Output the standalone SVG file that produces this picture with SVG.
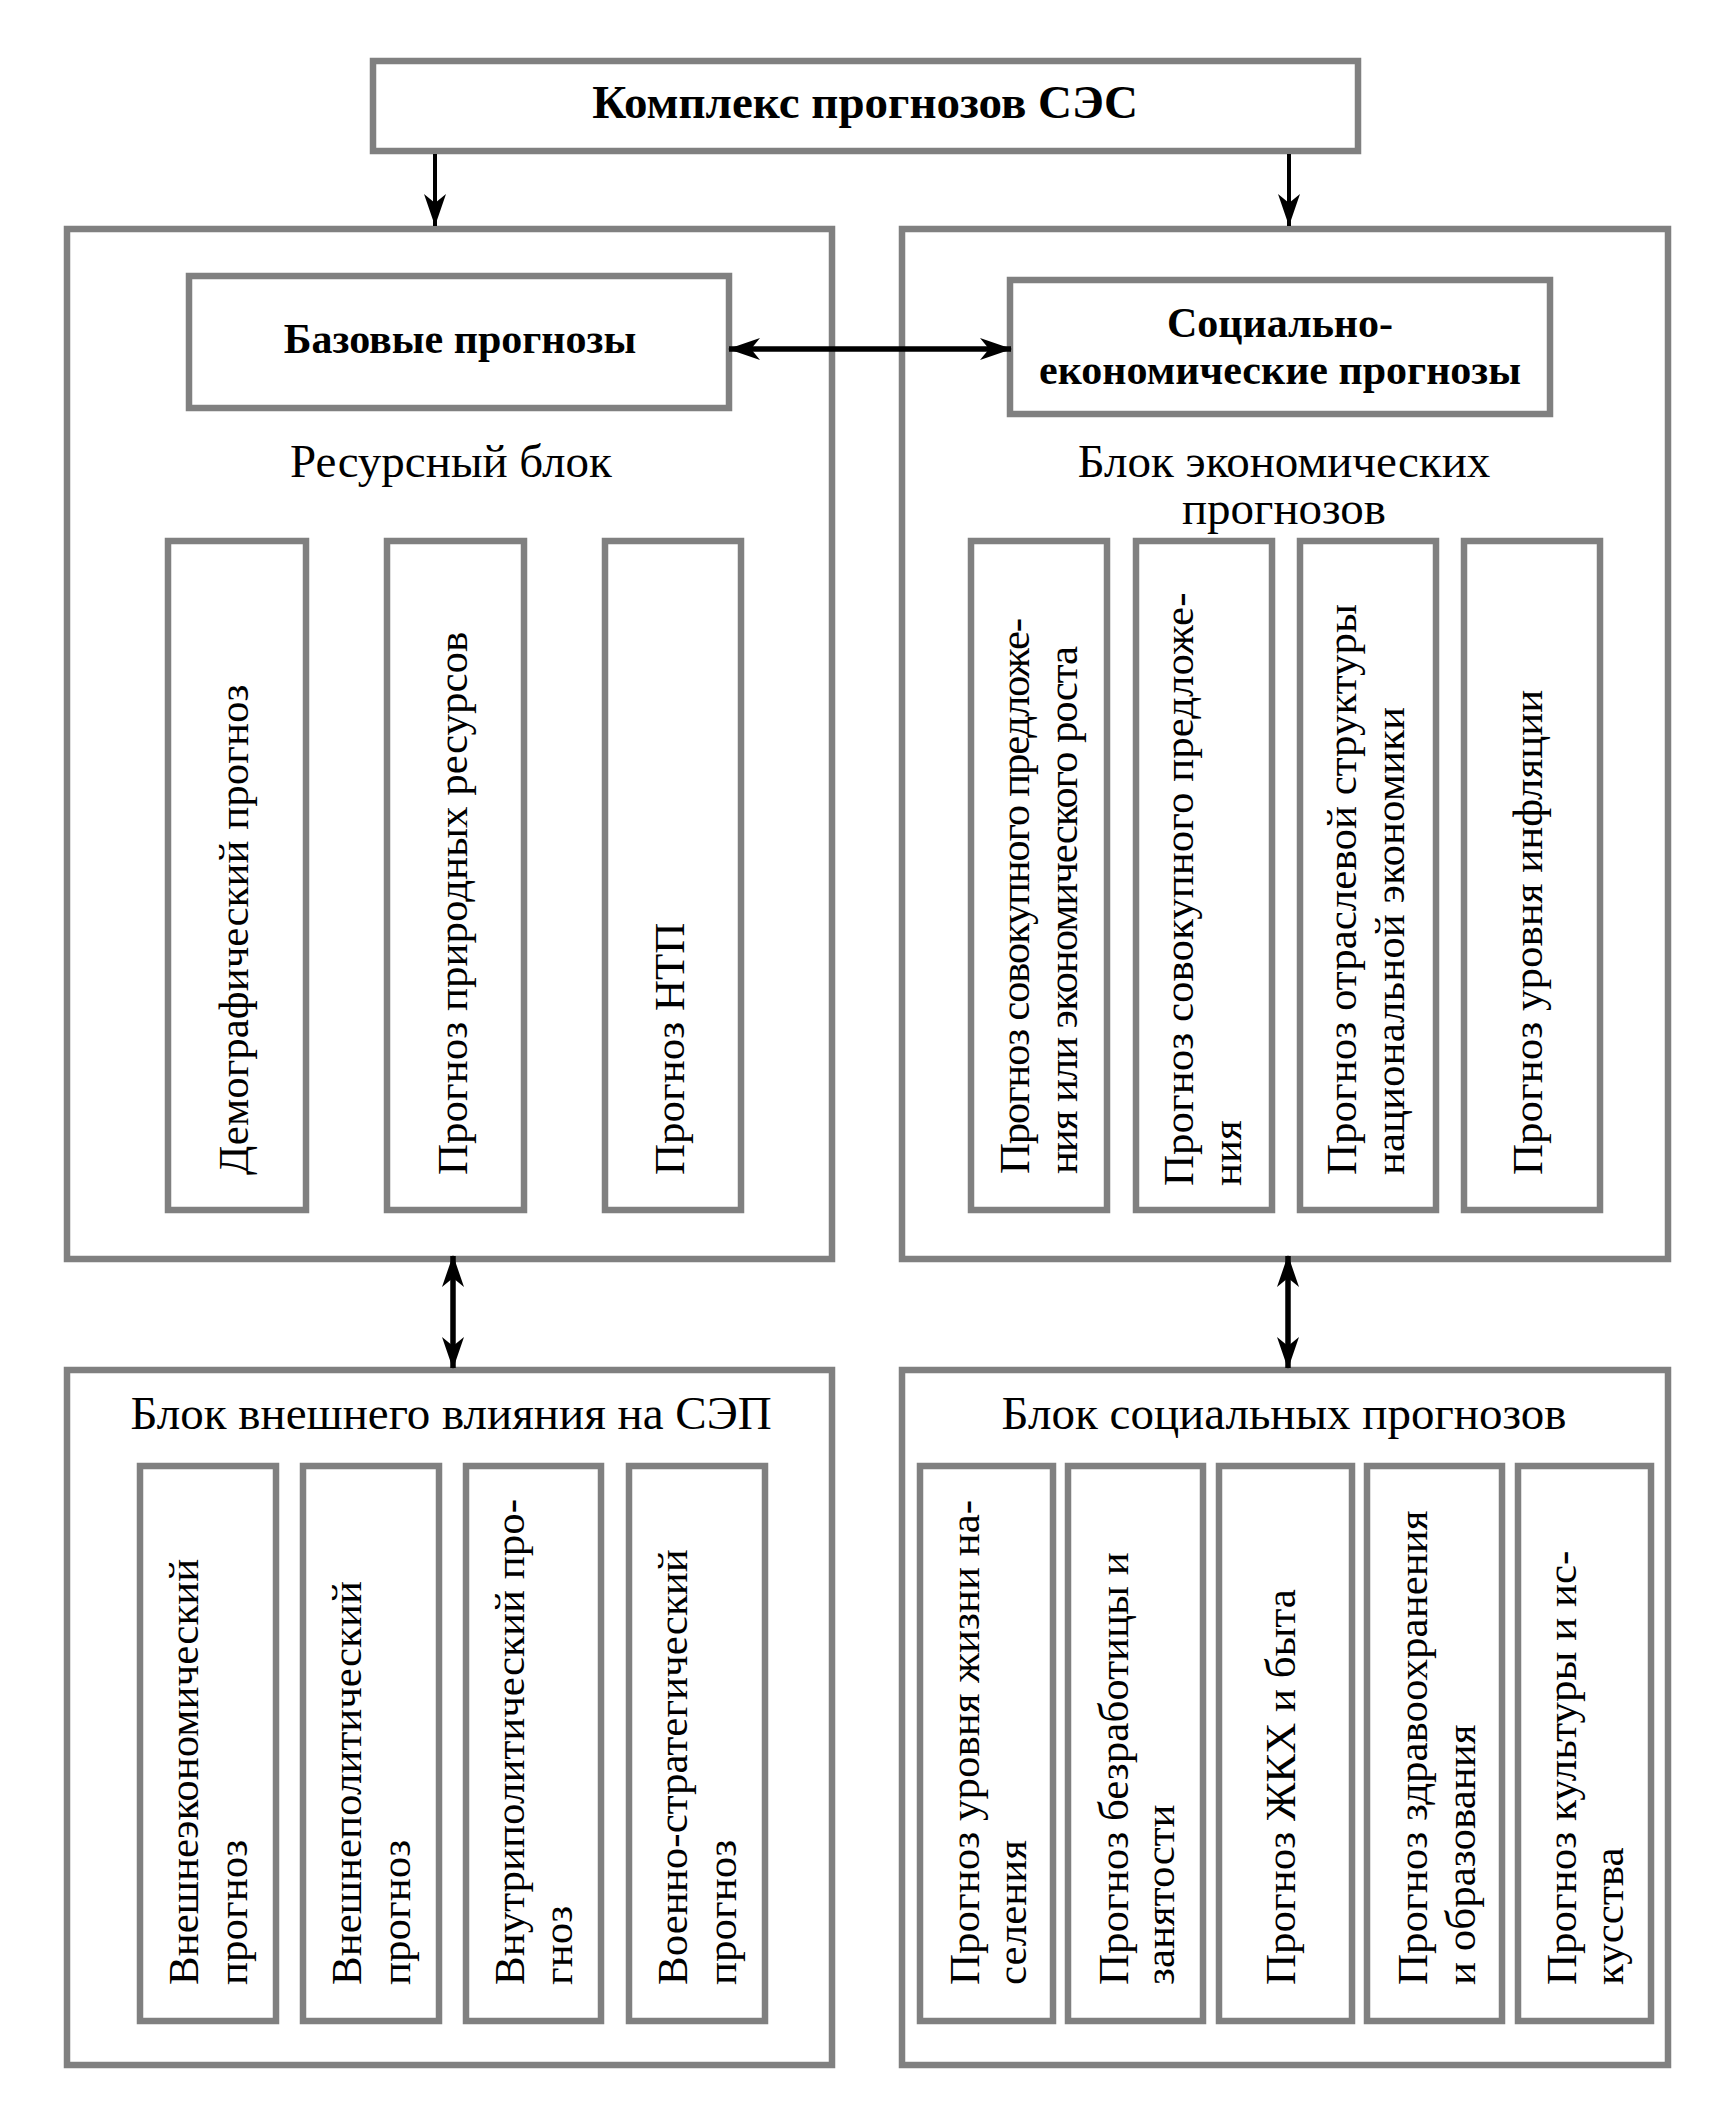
<svg xmlns="http://www.w3.org/2000/svg" width="1715" height="2112" viewBox="0 0 1715 2112" font-family="'Liberation Serif', 'Times New Roman', 'DejaVu Serif', serif">
<defs>
<style>
.box{fill:#fff;stroke:#808080;stroke-width:6.5}
text{fill:#000;font-family:'Liberation Serif','Times New Roman','DejaVu Serif',serif}
.title{font-size:47px;font-weight:bold}
.sub{font-size:42px;font-weight:bold}
.hdr{font-size:47px}
.v{font-size:43px}
.thin{stroke:#000;stroke-width:4;fill:none}
.thick{stroke:#000;stroke-width:5.5;fill:none}
</style>
<marker id="ah" viewBox="0 0 32 22" refX="32" refY="11" markerWidth="32" markerHeight="22" markerUnits="userSpaceOnUse" orient="auto">
<path d="M0,0 L32,11 L0,22 L9,11 Z" fill="#000"/>
</marker>
<marker id="ahd" viewBox="0 0 32 22" refX="31" refY="11" markerWidth="32" markerHeight="22" markerUnits="userSpaceOnUse" orient="auto-start-reverse">
<path d="M0,0 L32,11 L0,22 L9,11 Z" fill="#000"/>
</marker>
</defs>
<rect width="1715" height="2112" fill="#fff"/>

<g id="n-top">
<rect class="box" x="373" y="61" width="985" height="90"/>
<text class="title" x="865" y="118" text-anchor="middle">Комплекс прогнозов СЭС</text>
</g>

<g id="n-resource-block">
<rect class="box" x="67" y="229" width="765" height="1030"/>
<text class="hdr" x="451" y="477" text-anchor="middle">Ресурсный блок</text>
</g>
<g id="n-econ-block">
<rect class="box" x="902" y="229" width="766" height="1030"/>
<text class="hdr" x="1284" y="477" text-anchor="middle">Блок экономических</text>
<text class="hdr" x="1284" y="524" text-anchor="middle">прогнозов</text>
</g>

<g id="n-base">
<rect class="box" x="189" y="276" width="540" height="132"/>
<text class="sub" x="460" y="353" text-anchor="middle">Базовые прогнозы</text>
</g>
<g id="n-socioecon">
<rect class="box" x="1010" y="280" width="540" height="134"/>
<text class="sub" x="1280" y="337" text-anchor="middle">Социально-</text>
<text class="sub" x="1280" y="384" text-anchor="middle">економические прогнозы</text>
</g>

<g id="n-demo">
<rect class="box" x="168" y="541" width="138" height="669"/>
<text class="v" transform="translate(248,1175) rotate(-90)">Демографический прогноз</text>
</g>
<g id="n-nature">
<rect class="box" x="387" y="541" width="137" height="669"/>
<text class="v" transform="translate(467,1175) rotate(-90)">Прогноз природных ресурсов</text>
</g>
<g id="n-ntp">
<rect class="box" x="605" y="541" width="136" height="669"/>
<text class="v" transform="translate(684,1175) rotate(-90)">Прогноз НТП</text>
</g>

<g id="n-supply-growth">
<rect class="box" x="971" y="541" width="136" height="669"/>
<text class="v" transform="translate(1029,1174) rotate(-90)" textLength="556" lengthAdjust="spacing">Прогноз совокупного предложе-</text>
<text class="v" transform="translate(1077,1174) rotate(-90)" textLength="528" lengthAdjust="spacing">ния или экономического роста</text>
</g>
<g id="n-supply">
<rect class="box" x="1136" y="541" width="136" height="669"/>
<text class="v" transform="translate(1193,1186) rotate(-90)">Прогноз совокупного предложе-</text>
<text class="v" transform="translate(1241,1186) rotate(-90)">ния</text>
</g>
<g id="n-sector">
<rect class="box" x="1300" y="541" width="136" height="669"/>
<text class="v" transform="translate(1356,1175) rotate(-90)">Прогноз отраслевой структуры</text>
<text class="v" transform="translate(1404,1175) rotate(-90)">национальной экономики</text>
</g>
<g id="n-inflation">
<rect class="box" x="1464" y="541" width="136" height="669"/>
<text class="v" transform="translate(1542,1175) rotate(-90)">Прогноз уровня инфляции</text>
</g>

<g id="n-external-block">
<rect class="box" x="67" y="1370" width="765" height="695"/>
<text class="hdr" x="451" y="1429" text-anchor="middle">Блок внешнего влияния на СЭП</text>
</g>
<g id="n-social-block">
<rect class="box" x="902" y="1370" width="766" height="695"/>
<text class="hdr" x="1284" y="1429" text-anchor="middle">Блок социальных прогнозов</text>
</g>

<g id="n-extecon">
<rect class="box" x="140" y="1466" width="136" height="555"/>
<text class="v" transform="translate(198,1985) rotate(-90)">Внешнеэкономический</text>
<text class="v" transform="translate(247,1985) rotate(-90)">прогноз</text>
</g>
<g id="n-extpol">
<rect class="box" x="303" y="1466" width="136" height="555"/>
<text class="v" transform="translate(361,1985) rotate(-90)">Внешнеполитический</text>
<text class="v" transform="translate(410,1985) rotate(-90)">прогноз</text>
</g>
<g id="n-intpol">
<rect class="box" x="466" y="1466" width="135" height="555"/>
<text class="v" transform="translate(524,1985) rotate(-90)">Внутриполитический про-</text>
<text class="v" transform="translate(572,1985) rotate(-90)">гноз</text>
</g>
<g id="n-military">
<rect class="box" x="629" y="1466" width="136" height="555"/>
<text class="v" transform="translate(687,1985) rotate(-90)">Военно-стратегический</text>
<text class="v" transform="translate(736,1985) rotate(-90)">прогноз</text>
</g>

<g id="n-living">
<rect class="box" x="920" y="1466" width="133" height="555"/>
<text class="v" transform="translate(979,1985) rotate(-90)">Прогноз уровня жизни на-</text>
<text class="v" transform="translate(1026,1985) rotate(-90)">селения</text>
</g>
<g id="n-unemployment">
<rect class="box" x="1068" y="1466" width="135" height="555"/>
<text class="v" transform="translate(1128,1985) rotate(-90)">Прогноз безработицы и</text>
<text class="v" transform="translate(1174,1985) rotate(-90)">занятости</text>
</g>
<g id="n-housing">
<rect class="box" x="1219" y="1466" width="133" height="555"/>
<text class="v" transform="translate(1295,1985) rotate(-90)">Прогноз ЖКХ и быта</text>
</g>
<g id="n-health">
<rect class="box" x="1367" y="1466" width="135" height="555"/>
<text class="v" transform="translate(1427,1985) rotate(-90)">Прогноз здравоохранения</text>
<text class="v" transform="translate(1475,1985) rotate(-90)">и образования</text>
</g>
<g id="n-culture">
<rect class="box" x="1518" y="1466" width="133" height="555"/>
<text class="v" transform="translate(1576,1985) rotate(-90)">Прогноз культуры и ис-</text>
<text class="v" transform="translate(1623,1985) rotate(-90)">кусства</text>
</g>

<g id="connectors">
<line class="thin" x1="435" y1="154" x2="435" y2="226" marker-end="url(#ah)"/>
<line class="thin" x1="1289" y1="154" x2="1289" y2="226" marker-end="url(#ah)"/>
<line class="thick" x1="729" y1="349" x2="1011" y2="349" marker-start="url(#ahd)" marker-end="url(#ahd)"/>
<line class="thick" x1="453" y1="1256" x2="453" y2="1368" marker-start="url(#ahd)" marker-end="url(#ahd)"/>
<line class="thick" x1="1288" y1="1256" x2="1288" y2="1368" marker-start="url(#ahd)" marker-end="url(#ahd)"/>
</g>
</svg>
